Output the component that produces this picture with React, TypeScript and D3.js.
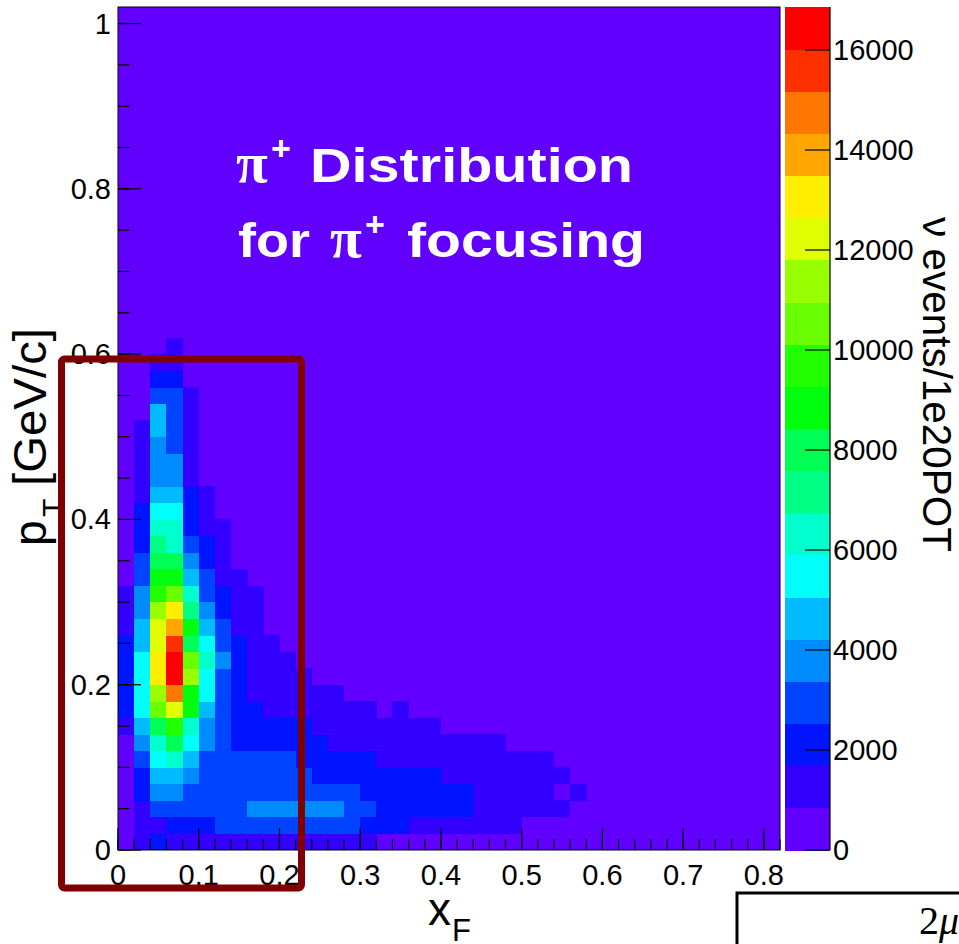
import React from 'react';
import * as d3 from 'd3';

// ---------- data ----------
const xFRange: [number, number] = [0, 0.82];
const pTRange: [number, number] = [0, 1.02];
const binWidth = 0.02;
const zMax = 16860;
const nContours = 20;

const xMajorTicks = [0, 0.1, 0.2, 0.3, 0.4, 0.5, 0.6, 0.7, 0.8];
const xTickLabels = ['0', '0.1', '0.2', '0.3', '0.4', '0.5', '0.6', '0.7', '0.8'];
const yMajorTicks = [0, 0.2, 0.4, 0.6, 0.8, 1.0];
const yTickLabels = ['0', '0.2', '0.4', '0.6', '0.8', '1'];
const zTicks = [0, 2000, 4000, 6000, 8000, 10000, 12000, 14000, 16000];
const zTickLabels = ['0', '2000', '4000', '6000', '8000', '10000', '12000', '14000', '16000'];

// ROOT "pretty" palette, 20 contour colours (violet -> red)
const palette = [
  '#6200ff', '#3300ff', '#0014ff', '#0044ff', '#008bff', '#00bbff', '#00fffb', '#00ffcc', '#00ff85', '#00ff55',
  '#00ff0e', '#22ff00', '#69ff00', '#99ff00', '#e0ff00', '#ffee00', '#ffa700', '#ff7700', '#ff3000', '#ff0000',
];

// nu events / 1e20 POT; counts[j][i] = pT bin j (0.02 wide), xF bin i (0.02 wide); missing bins are empty
const counts: number[][] = [
  [0, 1300, 2100, 1400, 1300, 1300, 1200, 1300, 1200, 1300, 1200, 1300, 1200, 1200, 1100, 1000],
  [0, 1400, 1600, 2100, 2300, 2300, 2800, 3000, 3100, 3100, 3000, 3000, 2900, 2800, 2700, 2400, 2200, 1900, 1500, 1400, 1300, 1200, 1100, 1000, 900],
  [0, 1200, 2900, 3100, 3200, 3300, 3300, 3300, 3800, 4000, 4000, 3900, 3800, 3600, 3300, 3000, 2500, 2400, 2300, 2200, 2000, 1800, 1600, 1500, 1300, 1200, 1000, 900],
  [0, 1900, 3700, 3600, 3200, 3100, 3100, 3000, 3000, 3000, 2900, 2900, 2800, 2700, 2600, 2500, 2400, 2300, 2200, 2100, 1900, 1800, 1600, 1400, 1200, 1000, 900, 0, 900],
  [0, 2000, 4600, 4500, 3900, 3200, 3000, 3000, 2900, 2900, 2800, 2700, 2500, 2400, 2300, 2200, 2100, 2000, 1900, 1800, 1600, 1500, 1400, 1300, 1200, 1100, 1000, 900],
  [0, 3000, 5500, 6300, 4700, 3200, 3100, 3000, 2900, 2800, 2700, 2400, 2300, 2200, 2000, 1800, 1600, 1500, 1400, 1400, 1300, 1200, 1100, 1000, 1000, 900, 900],
  [0, 3800, 6400, 8000, 5600, 3700, 2900, 2400, 2300, 2200, 2100, 2000, 1900, 1600, 1500, 1400, 1300, 1300, 1200, 1100, 1000, 1000, 900, 900],
  [1000, 4600, 8100, 9600, 6300, 3900, 3000, 2300, 2200, 2000, 1900, 1800, 1600, 1500, 1400, 1300, 1200, 1100, 1000, 900],
  [1800, 5400, 10500, 12200, 8800, 4600, 3100, 2300, 1900, 1600, 1500, 1400, 1300, 1100, 1000, 900, 0, 900],
  [1900, 5600, 11300, 14700, 8900, 5500, 3100, 2200, 1600, 1500, 1400, 1200, 1000, 900],
  [2000, 5700, 13000, 16700, 11500, 5600, 3300, 2200, 1500, 1400, 1200, 1000],
  [2000, 5500, 12900, 16300, 10600, 6200, 3700, 2100, 1500, 1300, 1100],
  [1900, 4800, 12300, 15500, 8100, 5400, 3200, 2000, 1400, 1100],
  [1600, 4500, 12100, 13800, 8700, 4700, 3000, 1600, 1200],
  [1500, 4000, 11200, 13100, 7100, 3900, 2400, 1500, 1000],
  [1300, 3700, 9600, 10400, 6300, 3300, 2200, 1400, 900],
  [0, 3100, 8800, 8700, 4600, 2900, 1500, 1200],
  [0, 2900, 8000, 7900, 3800, 2100, 1300],
  [0, 2300, 7100, 6400, 3000, 2000, 1200],
  [0, 2100, 6200, 6300, 2200, 1500, 1000],
  [0, 1900, 5500, 5300, 2000, 1300],
  [0, 1600, 4700, 4500, 1800, 1100],
  [0, 1400, 4000, 3700, 1500],
  [0, 1300, 3900, 3500, 1400],
  [0, 1200, 3800, 3100, 1300],
  [0, 1000, 4500, 3000, 1300],
  [0, 0, 4400, 2900, 1200],
  [0, 0, 3000, 2800, 1000],
  [0, 0, 2000, 1900],
  [0, 0, 1500, 1300],
  [0, 0, 0, 1100],
];

// ---------- layout ----------
const W = 959;
const H = 944;
const FR = { left: 118, right: 780, top: 7, bottom: 850 };
const BAR = { left: 785, right: 830 };
const SANS = '"Liberation Sans", Arial, Helvetica, sans-serif';
const SERIF = '"Liberation Serif", "Times New Roman", serif';

export default function App() {
  const x = d3.scaleLinear().domain(xFRange).range([FR.left, FR.right]);
  const y = d3.scaleLinear().domain(pTRange).range([FR.bottom, FR.top]);
  const z = d3.scaleLinear().domain([0, zMax]).range([FR.bottom, FR.top]);
  const levels = d3.range(nContours + 1).map((k) => (k * zMax) / nContours);
  const colorOf = d3.scaleThreshold<number, string>().domain(levels.slice(1, -1)).range(palette);

  const cells = counts
    .flatMap((row, j) => row.map((v, i) => ({ i, j, v })))
    .filter((c) => c.v > 0);

  const xMinor = d3.range(0, 42).map((k) => k * binWidth);
  const yMinor = d3.range(0, 21).map((k) => k * 0.05);

  return (
    <svg
      width={W}
      height={H}
      viewBox={`0 0 ${W} ${H}`}
      style={{ position: 'absolute', left: 0, top: 0, background: '#fff' }}
    >
      <rect x={0} y={0} width={W} height={H} fill="#fff" />

      {/* frame background */}
      <rect x={FR.left} y={FR.top} width={FR.right - FR.left} height={FR.bottom - FR.top} fill={palette[0]} />

      {/* heat cells */}
      <g shapeRendering="crispEdges">
        {cells.map((c) => {
          const x0 = x(c.i * binWidth);
          const x1 = x((c.i + 1) * binWidth);
          const y0 = y((c.j + 1) * binWidth);
          const y1 = y(c.j * binWidth);
          return (
            <rect key={`${c.i}-${c.j}`} x={x0} y={y0} width={x1 - x0 + 0.4} height={y1 - y0 + 0.4} fill={colorOf(c.v)} />
          );
        })}
      </g>

      {/* frame border */}
      <rect
        x={FR.left}
        y={FR.top}
        width={FR.right - FR.left}
        height={FR.bottom - FR.top}
        fill="none"
        stroke="#000"
        strokeWidth={1}
      />

      {/* ticks */}
      <g stroke="#000" strokeWidth={1.2}>
        {xMinor.map((v, k) => (
          <line key={`xm${k}`} x1={x(v)} x2={x(v)} y1={FR.bottom} y2={FR.bottom - 11} />
        ))}
        {xMajorTicks.map((v, k) => (
          <line key={`xM${k}`} x1={x(v)} x2={x(v)} y1={FR.bottom} y2={FR.bottom - 22} />
        ))}
        {yMinor.map((v, k) => (
          <line key={`ym${k}`} x1={FR.left} x2={FR.left + 12} y1={y(v)} y2={y(v)} />
        ))}
        {yMajorTicks.map((v, k) => (
          <line key={`yM${k}`} x1={FR.left} x2={FR.left + 23} y1={y(v)} y2={y(v)} />
        ))}
      </g>

      {/* tick labels */}
      <g fontFamily={SANS} fontSize={29} fill="#000">
        {xMajorTicks.map((v, k) => (
          <text key={`xl${k}`} x={x(v)} y={885} textAnchor="middle">
            {xTickLabels[k]}
          </text>
        ))}
        {yMajorTicks.map((v, k) => (
          <text key={`yl${k}`} x={111} y={y(v) + 10} textAnchor="end">
            {yTickLabels[k]}
          </text>
        ))}
        {zTicks.map((v, k) => (
          <text key={`zl${k}`} x={833} y={z(v) + 10} textAnchor="start">
            {zTickLabels[k]}
          </text>
        ))}
      </g>

      {/* colour bar */}
      <g shapeRendering="crispEdges">
        {palette.map((col, k) => (
          <rect
            key={`bar${k}`}
            x={BAR.left}
            y={z(levels[k + 1])}
            width={BAR.right - BAR.left}
            height={z(levels[k]) - z(levels[k + 1]) + 0.5}
            fill={col}
          />
        ))}
      </g>
      <line x1={BAR.right} x2={BAR.right} y1={FR.top} y2={FR.bottom} stroke="#000" strokeWidth={1.2} />
      <g stroke="#000" strokeWidth={1.2}>
        {zTicks.map((v, k) => (
          <line key={`zt${k}`} x1={BAR.right - 25} x2={BAR.right} y1={z(v)} y2={z(v)} />
        ))}
      </g>

      {/* axis titles */}
      <g fontFamily={SANS} fill="#000">
        <text x={428} y={925} fontSize={46}>x</text>
        <text x={452} y={941} fontSize={31}>F</text>
        <g transform="translate(46,546) rotate(-90)">
          <text x={0} y={0} fontSize={46}>p</text>
          <text x={29} y={17} fontSize={30}>T</text>
          <text x={60} y={0} fontSize={46} textLength={158} lengthAdjust="spacingAndGlyphs">
            [GeV/c]
          </text>
        </g>
        <text
          transform="translate(923,217) rotate(90)"
          fontSize={41}
          textLength={335}
          lengthAdjust="spacingAndGlyphs"
        >
          ν events/1e20POT
        </text>
      </g>

      {/* title inside plot */}
      <g fill="#fff" fontWeight="bold">
        <text x={236} y={182} fontFamily={SERIF} fontSize={58}>π</text>
        <text x={271} y={160} fontFamily={SANS} fontSize={34}>+</text>
        <text x={310} y={182} fontFamily={SANS} fontSize={48} textLength={323} lengthAdjust="spacingAndGlyphs">
          Distribution
        </text>
        <text x={238} y={257} fontFamily={SANS} fontSize={48} textLength={72} lengthAdjust="spacingAndGlyphs">
          for
        </text>
        <text x={330} y={257} fontFamily={SERIF} fontSize={58}>π</text>
        <text x={365} y={236} fontFamily={SANS} fontSize={34}>+</text>
        <text x={407} y={257} fontFamily={SANS} fontSize={48} textLength={238} lengthAdjust="spacingAndGlyphs">
          focusing
        </text>
      </g>

      {/* highlight rectangle */}
      <rect x={61.5} y={359} width={240} height={529} rx={3} fill="none" stroke="#800000" strokeWidth={7} />

      {/* partial box at bottom right */}
      <rect x={737} y={893} width={240} height={80} fill="#fff" stroke="#000" strokeWidth={3} />
      <text x={919} y={934} fontFamily={SERIF} fontSize={40} fill="#000">
        2<tspan fontStyle="italic">μ</tspan>
      </text>
    </svg>
  );
}
